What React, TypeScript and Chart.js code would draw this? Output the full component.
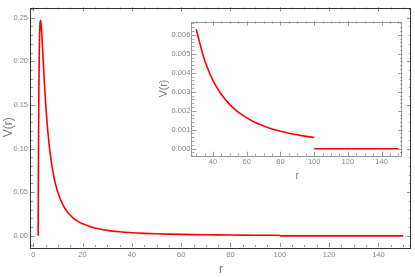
import React, { useEffect, useRef } from "react";
import { Chart, registerables } from "chart.js";
Chart.register(...registerables);

// Potential V(r)
const curveR = [2, 2.02, 2.05, 2.1, 2.2, 2.3, 2.4, 2.5, 2.6, 2.8, 3, 3.2, 3.5, 4, 4.5, 5, 6, 7, 8, 9, 10, 12, 14, 16, 18, 20, 25, 30, 35, 40, 45, 50, 55, 60, 65, 70, 75, 80, 85, 90, 95, 100];
const curveV = [0, 0.01696, 0.04049, 0.07507, 0.12977, 0.16938, 0.19772, 0.2176, 0.23108, 0.24469, 0.24691, 0.24262, 0.2299, 0.20313, 0.1768, 0.1536, 0.11728, 0.09163, 0.07324, 0.05975, 0.0496, 0.03569, 0.02686, 0.02094, 0.01677, 0.01373, 0.00895, 0.00629, 0.00466, 0.00359, 0.00285, 0.00232, 0.00192, 0.00162, 0.00138, 0.0012, 0.00104, 0.00092, 0.00081, 0.00073, 0.00065, 0.00059];
const tailR = [100, 150];
const tailV = [0, 0];
const insetStartR = 30;

const mainXTicks = [0, 20, 40, 60, 80, 100, 120, 140];
const mainYTicks = [0, 0.05, 0.1, 0.15, 0.2, 0.25];
const insetXTicks = [40, 60, 80, 100, 120, 140];
const insetYTicks = [0, 0.001, 0.002, 0.003, 0.004, 0.005, 0.006];

const xTitle = "r";
const yTitle = "V(r)";

const RED = "rgb(255,0,0)";
const LABEL = "#8a8a8a";
const TITLE = "#777";

function minorTicks(min: number, max: number, step: number) {
  const out: number[] = [];
  const k0 = Math.ceil(min / step - 1e-9);
  const k1 = Math.floor(max / step + 1e-9);
  for (let k = k0; k <= k1; k++) out.push(k * step);
  return out;
}

const framePlugin = {
  id: "frameTicks",
  afterDraw(chart: any, _args: any, opts: any) {
    const { ctx, chartArea } = chart;
    const { left, right, top, bottom } = chartArea;
    const xs = chart.scales.x;
    const ys = chart.scales.y;
    ctx.save();
    ctx.lineWidth = 1;
    ctx.strokeStyle = opts.tickColor;
    const drawX = (vals: number[], len: number) => {
      vals.forEach((v) => {
        const p = Math.round(xs.getPixelForValue(v)) + 0.5;
        if (p < left || p > right) return;
        ctx.beginPath();
        ctx.moveTo(p, bottom);
        ctx.lineTo(p, bottom - len);
        ctx.moveTo(p, top);
        ctx.lineTo(p, top + len);
        ctx.stroke();
      });
    };
    const drawY = (vals: number[], len: number) => {
      vals.forEach((v) => {
        const p = Math.round(ys.getPixelForValue(v)) + 0.5;
        if (p < top || p > bottom) return;
        ctx.beginPath();
        ctx.moveTo(left, p);
        ctx.lineTo(left + len, p);
        ctx.moveTo(right, p);
        ctx.lineTo(right - len, p);
        ctx.stroke();
      });
    };
    drawX(minorTicks(xs.min, xs.max, opts.xMinor), opts.minorLen);
    drawY(minorTicks(ys.min, ys.max, opts.yMinor), opts.minorLen);
    drawX(opts.xMajor, opts.majorLen);
    drawY(opts.yMajor, opts.majorLen);
    ctx.strokeStyle = opts.frameColor;
    ctx.lineWidth = opts.frameWidth;
    ctx.strokeRect(Math.round(left) + 0.5 - 1, Math.round(top) + 0.5, Math.round(right - left), Math.round(bottom - top));
    ctx.restore();
  },
};

function pts(rs: number[], vs: number[], minR = -Infinity) {
  const out: { x: number; y: number }[] = [];
  rs.forEach((r, i) => {
    if (r >= minR) out.push({ x: r, y: vs[i] });
  });
  return out;
}

function makeConfig(p: {
  minR: number;
  xMin: number; xMax: number; yMin: number; yMax: number;
  xTicks: number[]; yTicks: number[]; yDigits: number;
  yWidth: number; xHeight: number; padding: any;
  tickFont: number; titleFont: number; xTitlePad: number; yTitlePad: number;
  labelPad: number; frameColor: string; xMinor: number; yMinor: number;
}) {
  const ds = (data: any[]) => ({
    data,
    borderColor: RED,
    borderWidth: 1.6,
    pointRadius: 0,
    fill: false,
    cubicInterpolationMode: "monotone" as const,
  });
  return {
    type: "line" as const,
    data: {
      datasets: [ds(pts(curveR, curveV, p.minR)), ds(pts(tailR, tailV, p.minR))],
    },
    plugins: [framePlugin],
    options: {
      animation: false as const,
      responsive: false,
      maintainAspectRatio: false,
      devicePixelRatio: 1,
      layout: { padding: p.padding },
      plugins: {
        legend: { display: false },
        tooltip: { enabled: false },
        frameTicks: {
          tickColor: "#999",
          frameColor: p.frameColor,
          frameWidth: 1,
          majorLen: 4,
          minorLen: 2,
          xMajor: p.xTicks,
          yMajor: p.yTicks,
          xMinor: p.xMinor,
          yMinor: p.yMinor,
        },
      },
      scales: {
        x: {
          type: "linear" as const,
          min: p.xMin,
          max: p.xMax,
          border: { display: false },
          grid: { display: false, drawTicks: false },
          afterBuildTicks: (s: any) => {
            s.ticks = p.xTicks.map((v) => ({ value: v }));
          },
          afterFit: (s: any) => {
            s.height = p.xHeight;
          },
          ticks: {
            autoSkip: false,
            maxRotation: 0,
            padding: p.labelPad,
            color: LABEL,
            font: { family: "'Liberation Sans', Arial, sans-serif", size: p.tickFont },
            callback: (v: any) => String(v),
          },
          title: {
            display: true,
            text: xTitle,
            color: TITLE,
            padding: { top: 0, bottom: p.xTitlePad },
            font: { family: "'Liberation Sans', Arial, sans-serif", size: p.titleFont },
          },
        },
        y: {
          type: "linear" as const,
          min: p.yMin,
          max: p.yMax,
          border: { display: false },
          grid: { display: false, drawTicks: false },
          afterBuildTicks: (s: any) => {
            s.ticks = p.yTicks.map((v) => ({ value: v }));
          },
          afterFit: (s: any) => {
            s.width = p.yWidth;
          },
          ticks: {
            autoSkip: false,
            padding: p.labelPad,
            color: LABEL,
            font: { family: "'Liberation Sans', Arial, sans-serif", size: p.tickFont },
            callback: (v: any) => Number(v).toFixed(p.yDigits),
          },
          title: {
            display: true,
            text: yTitle,
            color: TITLE,
            padding: { top: p.yTitlePad, bottom: 0 },
            font: { family: "'Liberation Sans', Arial, sans-serif", size: p.titleFont },
          },
        },
      },
    },
  };
}

export default function App() {
  const mainRef = useRef<HTMLCanvasElement>(null);
  const insetRef = useRef<HTMLCanvasElement>(null);

  useEffect(() => {
    const main = new Chart(
      mainRef.current!,
      makeConfig({
        minR: -Infinity,
        xMin: -0.9, xMax: 153.2, yMin: -0.0128, yMax: 0.2616,
        xTicks: mainXTicks, yTicks: mainYTicks, yDigits: 2,
        yWidth: 31, xHeight: 30,
        padding: { left: 0, right: 4, top: 3, bottom: 0 },
        tickFont: 7.5, titleFont: 12, xTitlePad: 0.5, yTitlePad: 1.5,
        labelPad: 3, frameColor: "#333", xMinor: 5, yMinor: 0.01,
      }) as any
    );
    const inset = new Chart(
      insetRef.current!,
      makeConfig({
        minR: insetStartR,
        xMin: 27.7, xMax: 152.3, yMin: -0.00037, yMax: 0.0067,
        xTicks: insetXTicks, yTicks: insetYTicks, yDigits: 3,
        yWidth: 42.3, xHeight: 29.3,
        padding: { left: 0, right: 4.7, top: 5.7, bottom: 0 },
        tickFont: 7.5, titleFont: 10.5, xTitlePad: 2.3, yTitlePad: 8,
        labelPad: 2, frameColor: "#999", xMinor: 5, yMinor: 0.0002,
      }) as any
    );
    return () => {
      main.destroy();
      inset.destroy();
    };
  }, []);

  return (
    <div style={{ position: "absolute", left: 0, top: 0, width: 415, height: 277, background: "#fff" }}>
      <canvas ref={mainRef} width={415} height={277} style={{ position: "absolute", left: 0, top: 0, width: 415, height: 277 }} />
      <canvas ref={insetRef} width={257} height={170} style={{ position: "absolute", left: 150, top: 15, width: 257, height: 170 }} />
    </div>
  );
}
